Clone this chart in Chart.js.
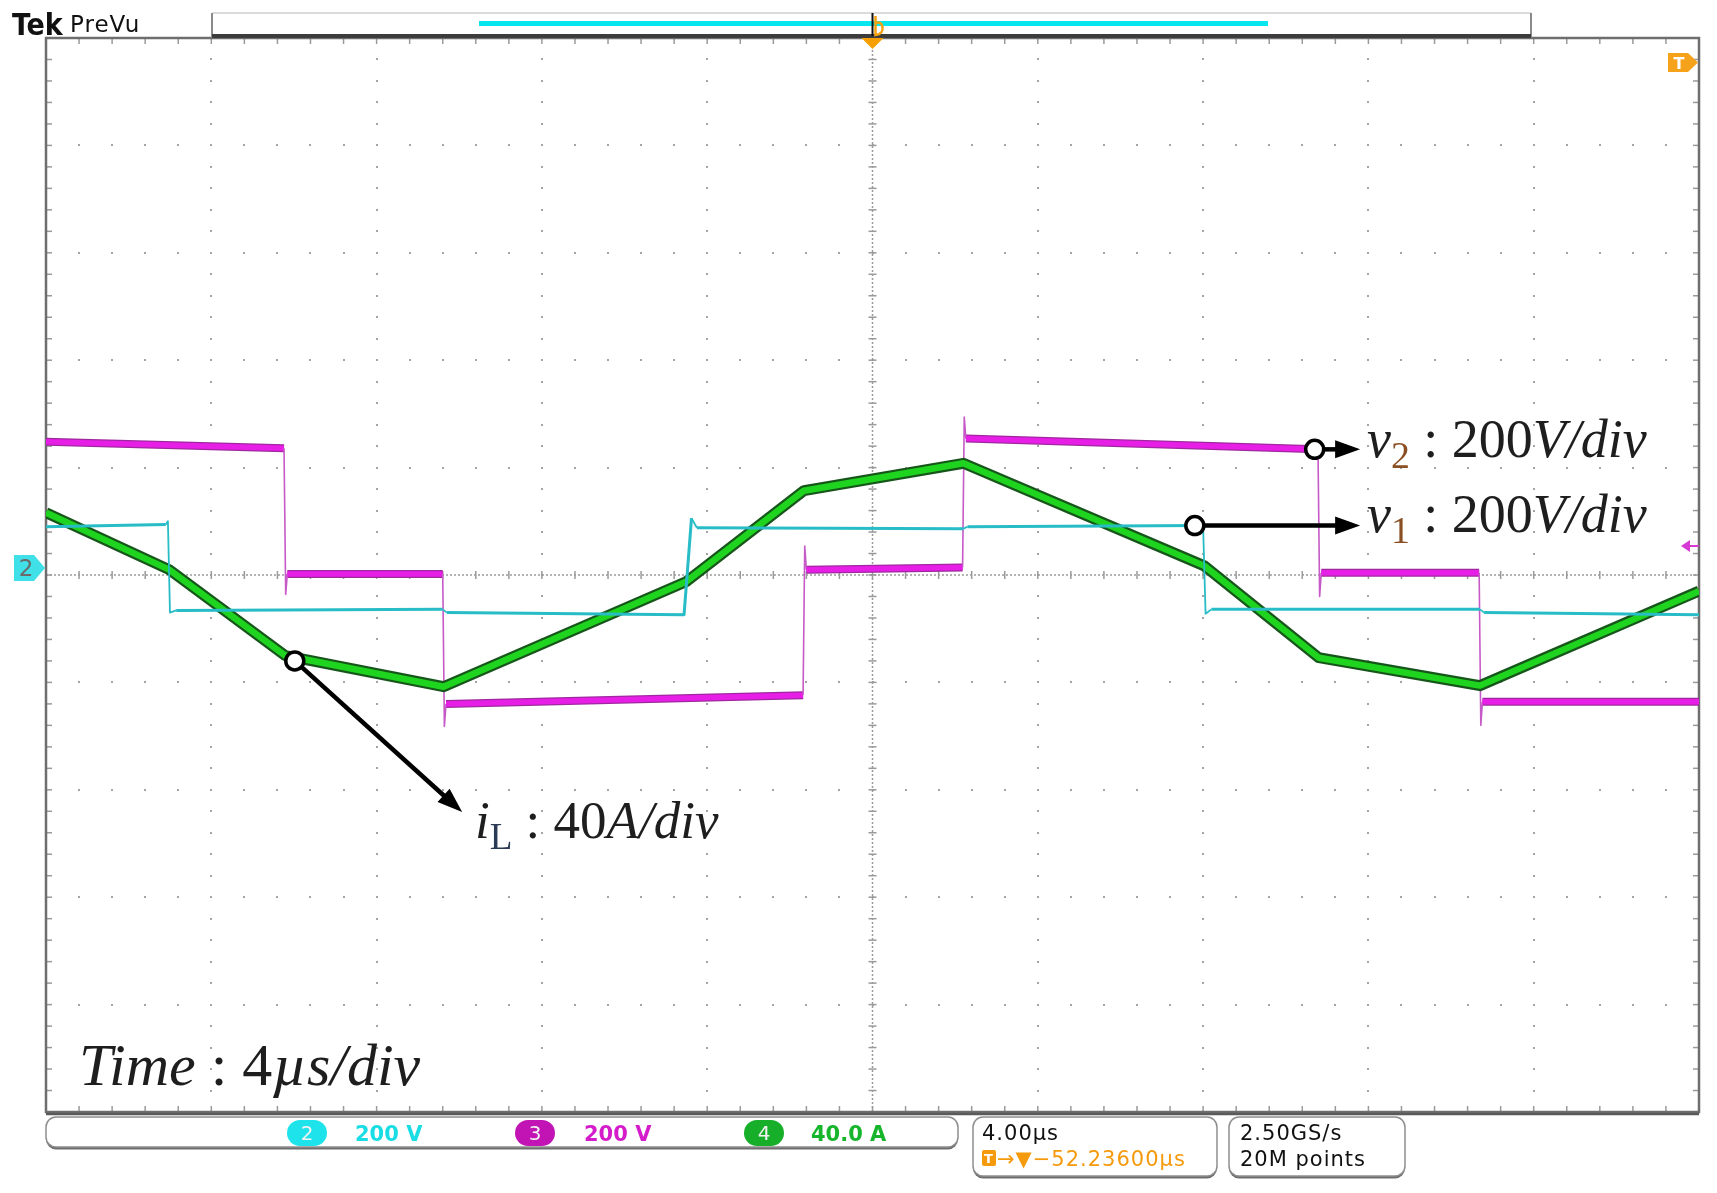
<!DOCTYPE html>
<html>
<head>
<meta charset="utf-8">
<title>v1, v2 and iL - Tek PreVu</title>
<script src="https://cdn.jsdelivr.net/npm/chart.js@4.4.1/dist/chart.umd.min.js"></script>
<style>
  html, body { margin: 0; padding: 0; background: #fff; }
  canvas { display: block; }
</style>
</head>
<body>
<canvas id="scope" width="1717" height="1193"></canvas>
<script>
// time in µs (4 µs/div), v in V (200 V/div), iL in A (40 A/div)
const v1Time = [0, 2.90, 2.95, 3.00, 3.15, 9.60, 9.70, 15.44, 15.62, 15.75, 22.20, 22.30, 28.00, 28.06, 28.20, 34.70, 34.80, 40.00];
const v1Volt = [90, 94, 100, -70, -66, -64, -70, -74, 106, 88, 86, 90, 92, -72, -64, -64, -70, -74];

const v2Time = [0, 5.76, 5.80, 5.84, 9.60, 9.64, 9.68, 18.32, 18.36, 18.40, 22.18, 22.22, 22.26, 30.78, 30.82, 30.86, 34.68, 34.72, 34.76, 40.00];
const v2Volt = [248, 236, -36, 2, 2, -282, -240, -224, 54, 10, 14, 294, 254, 234, -40, 4, 4, -280, -236, -236];

const iLTime = [0, 2.98, 5.79, 9.62, 15.50, 18.34, 22.20, 28.03, 30.80, 34.70, 40.00];
const iLAmp = [23.2, 2.0, -30.0, -41.6, -2.4, 31.4, 41.6, 3.4, -30.8, -41.2, -6.0];

const timeDivs = 10;      // 4 µs/div
const voltsPerDiv = 200;
const ampsPerDiv = 40;

const pts = (xs, ys) => xs.map((x, i) => ({ x: x, y: ys[i] }));
const isEdge = c => Math.abs(c.p1.parsed.x - c.p0.parsed.x) < 0.15;

function line(ctx, x0, y0, x1, y1) {
  ctx.beginPath();
  ctx.moveTo(x0, y0);
  ctx.lineTo(x1, y1);
  ctx.stroke();
}

function roundRect(ctx, x, y, w, h, r) {
  ctx.beginPath();
  ctx.moveTo(x + r, y);
  ctx.arcTo(x + w, y, x + w, y + h, r);
  ctx.arcTo(x + w, y + h, x, y + h, r);
  ctx.arcTo(x, y + h, x, y, r);
  ctx.arcTo(x, y, x + w, y, r);
  ctx.closePath();
}

function drawGraticule(chart) {
  const ctx = chart.ctx, a = chart.chartArea;
  const xs = chart.scales.x, ys = chart.scales.yV;
  const minorT = 40 / timeDivs / 5, minorV = voltsPerDiv / 5;
  ctx.save();
  ctx.fillStyle = '#a4a4a4';
  for (let k = 1; k < timeDivs; k++) {
    if (k === 5) continue;
    const px = Math.round(xs.getPixelForValue(k * 4));
    for (let m = 0; m <= 50; m++) {
      const py = Math.round(ys.getPixelForValue(-1000 + m * minorV));
      ctx.fillRect(px - 1, py - 1, 2, 2);
    }
  }
  for (let k = 1; k < 10; k++) {
    if (k === 5) continue;
    const py = Math.round(ys.getPixelForValue(-1000 + k * voltsPerDiv));
    for (let m = 0; m <= 50; m++) {
      const px = Math.round(xs.getPixelForValue(m * minorT));
      ctx.fillRect(px - 1, py - 1, 2, 2);
    }
  }
  // centre cross with ticks
  const cx = xs.getPixelForValue(20), cy = ys.getPixelForValue(0);
  ctx.strokeStyle = '#9a9a9a';
  ctx.lineWidth = 1.5;
  ctx.setLineDash([2, 2]);
  line(ctx, a.left, cy, a.right, cy);
  line(ctx, cx, a.top, cx, a.bottom);
  ctx.setLineDash([]);
  for (let m = 0; m <= 50; m++) {
    const px = xs.getPixelForValue(m * minorT);
    const py = ys.getPixelForValue(-1000 + m * minorV);
    line(ctx, px, cy - 4, px, cy + 4);
    line(ctx, cx - 4, py, cx + 4, py);
    // ruler ticks on the frame
    line(ctx, px, a.top, px, a.top + 6);
    line(ctx, px, a.bottom - 6, px, a.bottom);
    line(ctx, a.left, py, a.left + 6, py);
    line(ctx, a.right - 6, py, a.right, py);
  }
  ctx.strokeStyle = '#6e6e6e';
  ctx.lineWidth = 2.5;
  ctx.strokeRect(a.left, a.top, a.right - a.left, a.bottom - a.top);
  ctx.strokeStyle = '#5a5a5a';
  line(ctx, a.left, a.bottom + 2, a.right, a.bottom + 2);
  ctx.restore();
}

function callout(ctx, x0, y0, x1, y1) {
  const ang = Math.atan2(y1 - y0, x1 - x0);
  const c = Math.cos(ang), s = Math.sin(ang);
  const head = 25, half = 9, r = 9;
  ctx.save();
  ctx.strokeStyle = '#000';
  ctx.fillStyle = '#000';
  ctx.lineWidth = 4.5;
  line(ctx, x0 + r * c, y0 + r * s, x1 - head * c + c, y1 - head * s + s);
  ctx.beginPath();
  ctx.moveTo(x1, y1);
  ctx.lineTo(x1 - head * c + half * s, y1 - head * s - half * c);
  ctx.lineTo(x1 - head * c - half * s, y1 - head * s + half * c);
  ctx.closePath();
  ctx.fill();
  ctx.beginPath();
  ctx.arc(x0, y0, r, 0, Math.PI * 2);
  ctx.fillStyle = '#fff';
  ctx.fill();
  ctx.lineWidth = 3.5;
  ctx.stroke();
  ctx.restore();
}

function drawRuns(ctx, x, y, size, runs) {
  ctx.save();
  ctx.textBaseline = 'alphabetic';
  for (const r of runs) {
    const s = r.sub ? size * 0.7 : size;
    ctx.font = (r.it ? 'italic ' : '') + s + 'px "Liberation Serif", "DejaVu Serif", serif';
    ctx.fillStyle = r.color || '#1e1e1e';
    ctx.fillText(r.t, x, y + (r.sub ? size * 0.2 : 0));
    x += ctx.measureText(r.t).width;
  }
  ctx.restore();
}

function drawCallouts(chart) {
  const ctx = chart.ctx;
  const xs = chart.scales.x, yV = chart.scales.yV, yI = chart.scales.yI;
  callout(ctx, xs.getPixelForValue(30.7), yV.getPixelForValue(234), xs.getPixelForValue(31.8), yV.getPixelForValue(234));
  callout(ctx, xs.getPixelForValue(27.8), yV.getPixelForValue(92), xs.getPixelForValue(31.8), yV.getPixelForValue(92));
  callout(ctx, xs.getPixelForValue(6.02), yI.getPixelForValue(-32), xs.getPixelForValue(10.07), yI.getPixelForValue(-88.3));

  const sub = '#8a4f22';
  drawRuns(ctx, 1367, 457, 54, [
    { t: 'v', it: true }, { t: '2', sub: true, color: sub }, { t: ' : ' }, { t: '200' }, { t: 'V/div', it: true }
  ]);
  drawRuns(ctx, 1367, 532, 54, [
    { t: 'v', it: true }, { t: '1', sub: true, color: sub }, { t: ' : ' }, { t: '200' }, { t: 'V/div', it: true }
  ]);
  drawRuns(ctx, 475, 838, 53, [
    { t: 'i', it: true }, { t: 'L', sub: true, color: '#2b3a55' }, { t: ' : ' }, { t: '40' }, { t: 'A/div', it: true }
  ]);
  drawRuns(ctx, 79, 1085, 60, [
    { t: 'Time', it: true }, { t: ' : ' }, { t: '4' }, { t: 'µs/div', it: true }
  ]);
}

function drawChrome(chart) {
  const ctx = chart.ctx;
  const xs = chart.scales.x, yV = chart.scales.yV;
  const sans = '"DejaVu Sans", "Noto Sans", sans-serif';
  ctx.save();

  // Tek PreVu
  ctx.fillStyle = '#111';
  ctx.font = 'bold 30px "DejaVu Sans Condensed", "DejaVu Sans", sans-serif';
  ctx.fillText('Tek', 12, 35);
  ctx.font = '23px ' + sans;
  ctx.letterSpacing = '1px';
  ctx.fillText('PreVu', 70, 32);
  ctx.letterSpacing = '0px';

  // record view bar
  ctx.strokeStyle = '#cfcfcf';
  ctx.lineWidth = 1.5;
  line(ctx, 212, 13, 1531, 13);
  ctx.strokeStyle = '#8a8a8a';
  ctx.lineWidth = 2;
  line(ctx, 212, 13, 212, 38);
  line(ctx, 1531, 13, 1531, 38);
  ctx.fillStyle = '#3c3c3c';
  ctx.fillRect(212, 34, 1319, 4);
  ctx.fillStyle = '#06e6ef';
  ctx.fillRect(479, 21, 789, 5);

  // trigger position marker
  const tx = xs.getPixelForValue(20);
  ctx.strokeStyle = '#111';
  ctx.lineWidth = 2;
  line(ctx, tx, 13, tx, 36);
  ctx.strokeStyle = '#f5a210';
  ctx.lineWidth = 2.5;
  ctx.beginPath();
  ctx.moveTo(tx + 3, 16);
  ctx.lineTo(tx + 3, 35);
  ctx.quadraticCurveTo(tx + 11, 34, tx + 10, 27);
  ctx.quadraticCurveTo(tx + 9, 21, tx + 3, 23);
  ctx.stroke();
  ctx.fillStyle = '#f5a000';
  ctx.beginPath();
  ctx.moveTo(tx - 11, 38);
  ctx.lineTo(tx + 11, 38);
  ctx.lineTo(tx, 49);
  ctx.closePath();
  ctx.fill();

  // trigger level tab (top right)
  ctx.fillStyle = '#f7a21b';
  ctx.beginPath();
  ctx.moveTo(1668, 53);
  ctx.lineTo(1688, 53);
  ctx.lineTo(1698, 62.5);
  ctx.lineTo(1688, 72);
  ctx.lineTo(1668, 72);
  ctx.closePath();
  ctx.fill();
  ctx.fillStyle = '#fff';
  ctx.font = 'bold 16px ' + sans;
  ctx.textAlign = 'center';
  ctx.fillText('T', 1679, 69);

  // channel 2 ground marker
  const gy = yV.getPixelForValue(0) - 7;
  ctx.fillStyle = '#3fe0e8';
  ctx.beginPath();
  ctx.moveTo(14, gy - 13);
  ctx.lineTo(34, gy - 13);
  ctx.lineTo(45, gy);
  ctx.lineTo(34, gy + 13);
  ctx.lineTo(14, gy + 13);
  ctx.closePath();
  ctx.fill();
  ctx.fillStyle = '#6a6a6a';
  ctx.font = '23px ' + sans;
  ctx.fillText('2', 26, gy + 8);

  // channel 3 offset arrow (right)
  ctx.strokeStyle = '#d53ad5';
  ctx.fillStyle = '#d53ad5';
  ctx.lineWidth = 2;
  line(ctx, 1688, 546, 1699, 546);
  ctx.beginPath();
  ctx.moveTo(1681, 546);
  ctx.lineTo(1690, 540);
  ctx.lineTo(1690, 552);
  ctx.closePath();
  ctx.fill();

  // status boxes
  const box = (x, y, w, h) => {
    ctx.fillStyle = '#6e6e6e';
    roundRect(ctx, x, y + 2.5, w, h, 10);
    ctx.fill();
    ctx.fillStyle = '#fff';
    roundRect(ctx, x, y, w, h, 10);
    ctx.fill();
    ctx.strokeStyle = '#8e8e8e';
    ctx.lineWidth = 1.5;
    ctx.stroke();
  };
  box(46, 1117, 912, 30);
  box(973, 1117, 244, 59);
  box(1229, 1117, 176, 59);

  const badge = (cx, num, fill, label, color, lx) => {
    ctx.fillStyle = fill;
    roundRect(ctx, cx - 20, 1120, 40, 26, 13);
    ctx.fill();
    ctx.fillStyle = '#f2f2f2';
    ctx.textAlign = 'center';
    ctx.font = '20px ' + sans;
    ctx.fillText(num, cx, 1140);
    ctx.textAlign = 'left';
    ctx.fillStyle = color;
    ctx.font = 'bold 21px ' + sans;
    ctx.fillText(label, lx, 1141);
  };
  badge(307, '2', '#1ee3ea', '200 V', '#19dde5', 355);
  badge(535, '3', '#c214b4', '200 V', '#d41ccb', 584);
  badge(764, '4', '#17ae2a', '40.0 A', '#16b52c', 811);

  ctx.textAlign = 'left';
  ctx.fillStyle = '#111';
  ctx.font = '21px ' + sans;
  ctx.letterSpacing = '1px';
  ctx.fillText('4.00µs', 982, 1140);
  ctx.fillText('2.50GS/s', 1240, 1140);
  ctx.fillText('20M points', 1240, 1166);

  ctx.save();
  ctx.beginPath();
  ctx.rect(975, 1145, 240, 28);
  ctx.clip();
  ctx.fillStyle = '#f59a0c';
  roundRect(ctx, 982, 1150, 14, 16, 2);
  ctx.fill();
  ctx.fillStyle = '#fff';
  ctx.font = 'bold 13px ' + sans;
  ctx.fillText('T', 984, 1163);
  ctx.fillStyle = '#f59a0c';
  ctx.font = '21px ' + sans;
  ctx.fillText('\u2192\u25BC\u221252.23600µs', 997, 1166);
  ctx.restore();

  ctx.restore();
}

const scopePlugin = {
  id: 'scopeScreen',
  beforeDatasetsDraw: drawGraticule,
  afterDatasetsDraw: drawCallouts,
  afterDraw: drawChrome
};

new Chart(document.getElementById('scope'), {
  type: 'line',
  data: {
    datasets: [
      {
        label: 'v2 shadow',
        data: pts(v2Time, v2Volt),
        yAxisID: 'yV',
        borderWidth: 8,
        borderColor: '#a0289f',
        segment: { borderColor: c => isEdge(c) ? 'rgba(0,0,0,0)' : '#a0289f' },
        order: 6
      },
      {
        label: 'v2',
        data: pts(v2Time, v2Volt),
        yAxisID: 'yV',
        borderWidth: 5.5,
        borderColor: '#e61ee6',
        segment: {
          borderWidth: c => isEdge(c) ? 1.6 : 5.5,
          borderColor: c => isEdge(c) ? '#c65ac6' : '#e61ee6'
        },
        order: 5
      },
      {
        label: 'iL shadow',
        data: pts(iLTime, iLAmp),
        yAxisID: 'yI',
        borderWidth: 11,
        borderColor: '#17561a',
        order: 4
      },
      {
        label: 'iL',
        data: pts(iLTime, iLAmp),
        yAxisID: 'yI',
        borderWidth: 6.5,
        borderColor: '#1fd41f',
        order: 3
      },
      {
        label: 'v1',
        data: pts(v1Time, v1Volt),
        yAxisID: 'yV',
        borderWidth: 3,
        borderColor: '#28bcc7',
        segment: { borderWidth: c => isEdge(c) ? 1.8 : 3 },
        order: 2
      }
    ]
  },
  options: {
    responsive: false,
    devicePixelRatio: 1,
    animation: false,
    layout: { padding: { left: 46, top: 38, right: 18, bottom: 81 } },
    elements: {
      point: { radius: 0, hoverRadius: 0 },
      line: { tension: 0, borderJoinStyle: 'round', fill: false }
    },
    scales: {
      x: { type: 'linear', min: 0, max: 40, display: false },
      yV: { type: 'linear', min: -5 * voltsPerDiv, max: 5 * voltsPerDiv, display: false },
      yI: { type: 'linear', min: -5 * ampsPerDiv, max: 5 * ampsPerDiv, display: false }
    },
    plugins: {
      legend: { display: false },
      tooltip: { enabled: false }
    }
  },
  plugins: [scopePlugin]
});
</script>
</body>
</html>
